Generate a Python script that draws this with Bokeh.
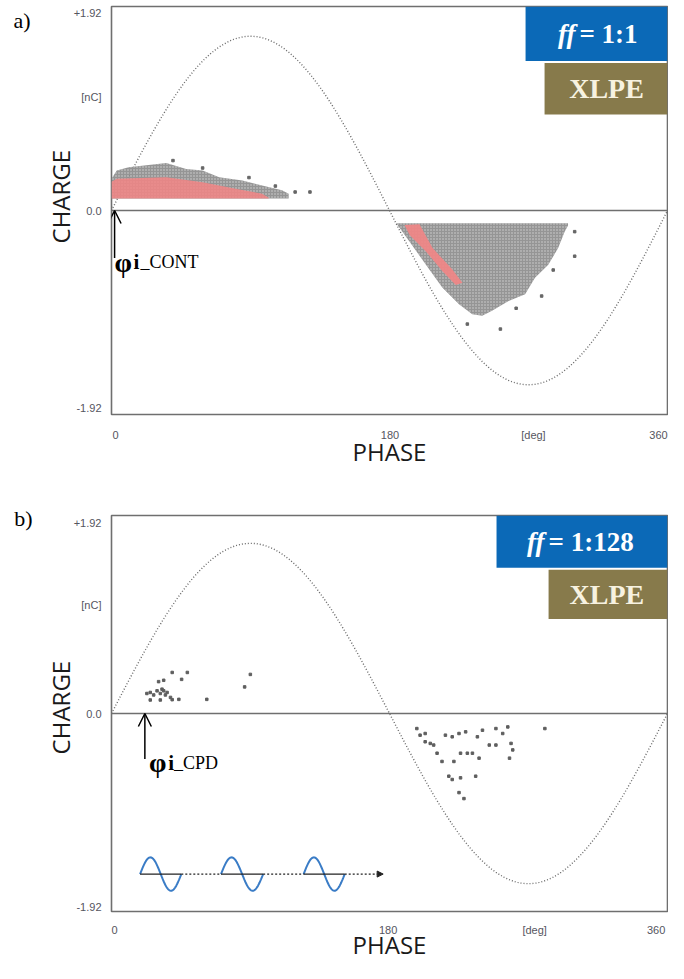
import numpy as np
from bokeh.plotting import figure
from bokeh.models import (Range1d, Span, Label, Arrow, OpenHead, NormalHead,
                          BoxAnnotation, FixedTicker, LinearAxis)
from bokeh.layouts import column
from bokeh.embed import file_html
from bokeh.resources import INLINE

# ---------------- data ----------------
# reference (test voltage) sine amplitude, nC scale
sine_amp_a = 1.64
sine_amp_b = 1.65

# a) positive half-cycle PD cloud envelope (phase deg, charge nC)
pos_phase_a = [0.0, 3.4, 11.1, 35.5, 48.3, 59.0, 69.7, 84.7, 97.5, 110.4, 114.7]
pos_upper_a = [0.30, 0.376, 0.407, 0.447, 0.39, 0.376, 0.314, 0.283, 0.236, 0.19, 0.158]
pos_lower_a = [0.112, 0.112, 0.112, 0.112, 0.112, 0.112, 0.112, 0.112, 0.112, 0.112, 0.112]
# a) dense (red) core of the positive cloud
core_phase_a = [0.0, 3.4, 35.5, 59.0, 80.4, 97.5, 101.8]
core_upper_a = [0.27, 0.298, 0.314, 0.267, 0.205, 0.158, 0.12]
core_lower_a = [0.112, 0.112, 0.112, 0.112, 0.112, 0.112, 0.112]
# a) negative half-cycle PD cloud envelope
neg_phase_a = [184.4, 192.9, 203.6, 214.3, 225.0, 233.6, 240.0, 246.4, 257.1,
               267.8, 274.2, 282.8, 289.2, 293.4, 295.6]
neg_upper_a = [-0.121, -0.121, -0.121, -0.121, -0.121, -0.121, -0.121, -0.121,
               -0.121, -0.121, -0.121, -0.121, -0.121, -0.121, -0.121]
neg_lower_a = [-0.121, -0.292, -0.51, -0.727, -0.882, -0.976, -0.99, -0.944,
               -0.851, -0.789, -0.634, -0.51, -0.354, -0.199, -0.14]
# a) dense (red) band of the negative cloud (outline)
band_phase_a = [189.7, 199.4, 207.9, 220.7, 227.2, 222.9, 214.3, 203.6, 193.0]
band_charge_a = [-0.137, -0.130, -0.354, -0.556, -0.680, -0.702, -0.571, -0.385, -0.230]
# a) isolated pulses around the clouds
out_phase_a = [118.9, 128.5, 39.8, 59.0, 89.0, 106.1, 230.4, 251.8, 299.9, 299.9,
               278.5, 262.0, 286.0]
out_charge_a = [0.174, 0.174, 0.47, 0.40, 0.31, 0.23, -1.069, -1.116, -0.199,
                -0.43, -0.805, -0.92, -0.56]

# b) individual pulses, positive half-cycle
pts_pos_phase_b = [22.9, 25.1, 27.3, 29.5, 31.6, 32.7, 33.8, 34.9, 36.0, 38.2, 39.3,
                   43.6, 25.1, 31.6, 30.5, 33.8, 39.3, 49.1, 45.4, 61.7, 86.2, 89.9]
pts_pos_charge_b = [0.194, 0.204, 0.18, 0.22, 0.194, 0.236, 0.22, 0.18, 0.204, 0.156,
                    0.134, 0.137, 0.131, 0.131, 0.309, 0.322, 0.398, 0.398, 0.331,
                    0.137, 0.258, 0.379]
# b) individual pulses, negative half-cycle
pts_neg_phase_b = [197.7, 199.8, 203.1, 206.4, 208.6, 203.1, 210.8, 214.0, 216.2,
                   220.6, 221.7, 225.0, 226.0, 229.3, 230.4, 233.7, 236.9, 238.0,
                   240.2, 244.6, 248.9, 248.9, 253.3, 256.6, 257.7, 258.7, 259.8,
                   280.6, 218.4, 220.6, 226.0, 235.8, 225.0, 228.2]
pts_neg_charge_b = [-0.146, -0.21, -0.194, -0.29, -0.306, -0.274, -0.385, -0.465,
                    -0.21, -0.226, -0.465, -0.194, -0.385, -0.178, -0.385, -0.385,
                    -0.226, -0.433, -0.162, -0.306, -0.146, -0.306, -0.194, -0.13,
                    -0.433, -0.29, -0.353, -0.146, -0.608, -0.64, -0.624, -0.608,
                    -0.767, -0.825]

# inception phase markers
phi_a = 2.0
phi_b = 21.6

# tick labels
y_tick_labels = ["-1.92", "0.0", "[nC]", "+1.92"]
x_tick_labels = ["0", "180", "[deg]", "360"]

# badges
ff_a = "= 1:1"
ff_b = "= 1:128"
material = "XLPE"

# ---------------- styling helpers ----------------
GRAY_FRAME = "#6f6f6f"
TICK_COLOR = "#555560"
BLUE = "#0b69b7"
OLIVE = "#877a4b"


def plain_axis(ax):
    ax.axis_line_color = None
    ax.major_tick_line_color = None
    ax.minor_tick_line_color = None
    ax.major_tick_out = 0
    ax.major_tick_in = 0


def base_fig(width, height, left, right, top, bottom, yticks, xticks,
             panel, panel_y, panel_standoff, charge_y, charge_standoff,
             x_standoff, phase_standoff):
    p = figure(width=width, height=height, x_range=Range1d(0, 360),
               y_range=Range1d(-1.92, 1.92), output_backend="svg",
               toolbar_location=None, title=None,
               min_border_left=left, min_border_right=right,
               min_border_top=top, min_border_bottom=bottom)
    p.grid.visible = False
    p.outline_line_color = GRAY_FRAME
    p.outline_line_width = 1.6
    p.background_fill_color = "white"
    p.border_fill_color = "white"
    for ax in (p.xaxis, p.yaxis):
        plain_axis(ax)
        ax.major_label_text_font = "Liberation Sans"
        ax.major_label_text_font_size = "11px"
        ax.major_label_text_color = TICK_COLOR
    p.yaxis.ticker = FixedTicker(ticks=yticks)
    p.yaxis.major_label_overrides = {t: s for t, s in zip(yticks, y_tick_labels)}
    p.yaxis.major_label_standoff = 10
    p.xaxis.ticker = FixedTicker(ticks=xticks)
    p.xaxis.major_label_overrides = {t: s for t, s in zip(xticks, x_tick_labels)}
    p.xaxis.major_label_standoff = x_standoff
    p.xaxis.axis_label = "PHASE"
    p.xaxis.axis_label_text_font = "Open Sans"
    p.xaxis.axis_label_text_font_size = "24px"
    p.xaxis.axis_label_text_font_style = "normal"
    p.xaxis.axis_label_text_color = "#1a1a1a"
    p.xaxis.axis_label_standoff = phase_standoff

    # "CHARGE" title as a rotated single-tick axis label
    ax2 = LinearAxis(ticker=FixedTicker(ticks=[charge_y]),
                     major_label_overrides={charge_y: "CHARGE"},
                     major_label_orientation="vertical",
                     major_label_standoff=charge_standoff,
                     major_label_text_font="Open Sans",
                     major_label_text_font_size="24px",
                     major_label_text_color="#1a1a1a")
    plain_axis(ax2)
    p.add_layout(ax2, "left")
    # panel letter
    ax3 = LinearAxis(ticker=FixedTicker(ticks=[panel_y]),
                     major_label_overrides={panel_y: panel},
                     major_label_standoff=panel_standoff,
                     major_label_text_font="Liberation Serif",
                     major_label_text_font_size="22px",
                     major_label_text_color="black")
    plain_axis(ax3)
    p.add_layout(ax3, "left")

    p.add_layout(Span(location=0, dimension="width", line_color=GRAY_FRAME,
                      line_width=1.6))
    return p


def add_sine(p, amp):
    ph = np.linspace(0, 360, 361)
    p.line(ph, amp * np.sin(np.radians(ph)), line_color="#6a6a6a",
           line_width=1.4, line_dash="1 2")


def add_badges(p, blue_left, blue_bottom, ol_left, ol_top, ol_bottom,
               ff_text, ff_x, ff_y, xl_x, xl_y):
    p.add_layout(BoxAnnotation(left=blue_left, right=360, top=1.92,
                               bottom=blue_bottom, fill_color=BLUE,
                               fill_alpha=1, line_color=None))
    p.add_layout(BoxAnnotation(left=ol_left, right=360, top=ol_top,
                               bottom=ol_bottom, fill_color=OLIVE,
                               fill_alpha=1, line_color=None))
    p.add_layout(Label(x=ff_x, y=ff_y, text="ff", text_font="Liberation Serif",
                       text_font_style="bold italic", text_font_size="27px",
                       text_color="white", text_align="right",
                       text_baseline="middle"))
    p.add_layout(Label(x=ff_x, y=ff_y, x_offset=4, text=ff_text,
                       text_font="Liberation Serif", text_font_style="bold",
                       text_font_size="27px", text_color="white",
                       text_align="left", text_baseline="middle"))
    p.add_layout(Label(x=xl_x, y=xl_y, text=material,
                       text_font="Liberation Serif", text_font_style="bold",
                       text_font_size="28px", text_color="#f7f2e0",
                       text_align="center", text_baseline="middle"))


def add_phi(p, x0, y_tail, tx, ix, sx, ty, sub):
    p.add_layout(Arrow(end=OpenHead(size=13, line_width=1.5, line_color="black"),
                       x_start=x0, y_start=y_tail, x_end=x0, y_end=0.0,
                       line_color="black", line_width=1.5))
    p.add_layout(Label(x=tx, y=ty, text="φ", text_font="Liberation Serif",
                       text_font_style="bold", text_font_size="28px",
                       text_color="black", text_baseline="alphabetic"))
    p.add_layout(Label(x=ix, y=ty, text="i", text_font="Liberation Serif",
                       text_font_style="bold", text_font_size="21px",
                       text_color="black", text_baseline="alphabetic"))
    p.add_layout(Label(x=sx, y=ty, text=sub, text_font="Liberation Serif",
                       text_font_size="18px", text_color="black",
                       text_baseline="alphabetic"))


# ---------------- panel a ----------------
pa = base_fig(668, 470, 111, 1, 6, 52,
              [-1.86, 0.0, 1.07, 1.855], [2.6, 180.3, 273.2, 354.2],
              "a)", 1.789, 10, 0.13, -6, 14, -9)
add_sine(pa, sine_amp_a)
pa.varea(x=pos_phase_a, y1=pos_lower_a, y2=pos_upper_a, fill_color="#8a8a8a",
         fill_alpha=0.9, hatch_pattern=".", hatch_color="white",
         hatch_alpha=0.6, hatch_scale=3, hatch_weight=1)
pa.varea(x=core_phase_a, y1=core_lower_a, y2=core_upper_a, fill_color="#f28585",
         fill_alpha=0.85)
pa.varea(x=neg_phase_a, y1=neg_lower_a, y2=neg_upper_a, fill_color="#8a8a8a",
         fill_alpha=0.9, hatch_pattern=".", hatch_color="white",
         hatch_alpha=0.6, hatch_scale=3, hatch_weight=1)
pa.patch(band_phase_a, band_charge_a, fill_color="#f28585", fill_alpha=0.9,
         line_color=None)
pa.scatter(out_phase_a, out_charge_a, marker="square", size=2.5,
           color="#666666")
add_badges(pa, 268.1, 1.407, 280.4, 1.389, 0.904, ff_a, 300.4, 1.659,
           320.5, 1.146)
add_phi(pa, phi_a, -0.447, 1.9, 14.2, 18.8, -0.485, "_CONT")

# ---------------- panel b ----------------
pb = base_fig(668, 493, 111, 1, 45, 47,
              [-1.88, 0.0, 1.05, 1.843], [2.0, 179.1, 274.0, 352.6],
              "b)", 1.891, 9, 0.057, -7, 12, -11)
add_sine(pb, sine_amp_b)
pb.scatter(pts_pos_phase_b, pts_pos_charge_b, marker="square", size=2.5,
           color="#5e5e5e")
pb.scatter(pts_neg_phase_b, pts_neg_charge_b, marker="square", size=2.5,
           color="#5e5e5e")
add_badges(pb, 249.3, 1.414, 283.0, 1.395, 0.917, ff_b, 280.4, 1.667,
           320.8, 1.156)
add_phi(pb, phi_b, -0.44, 24.2, 36.7, 40.5, -0.478, "_CPD")

# b) time-base icon: three cycles linked by a dotted arrow
icon_starts = [18.5, 70.9, 124.4]
icon_ends = [45.2, 98.2, 151.0]
icon_arrow_end = 175.9
icon_base = -1.557
icon_amp = 0.162
for s, e in zip(icon_starts, icon_ends):
    t = np.linspace(0, 1, 60)
    pb.line(s + (e - s) * t, icon_base + icon_amp * np.sin(2 * np.pi * t),
            line_color="#3a7cc6", line_width=2)
    pb.segment(x0=[s], y0=[icon_base], x1=[e], y1=[icon_base],
               line_color="#222222", line_width=1.3)
gap_starts = icon_ends[:2]
gap_ends = icon_starts[1:]
pb.segment(x0=gap_starts, y0=[icon_base] * 2, x1=gap_ends, y1=[icon_base] * 2,
           line_color="#222222", line_width=1.3, line_dash="2 2")
pb.add_layout(Arrow(end=NormalHead(size=6, fill_color="#222222",
                                   line_color="#222222"),
                    x_start=icon_ends[2], y_start=icon_base, x_end=icon_arrow_end,
                    y_end=icon_base, line_color="#222222", line_width=1.3,
                    line_dash="2 2"))

layout = column(pa, pb, spacing=0)
open("out.html", "w").write(file_html(layout, INLINE))
